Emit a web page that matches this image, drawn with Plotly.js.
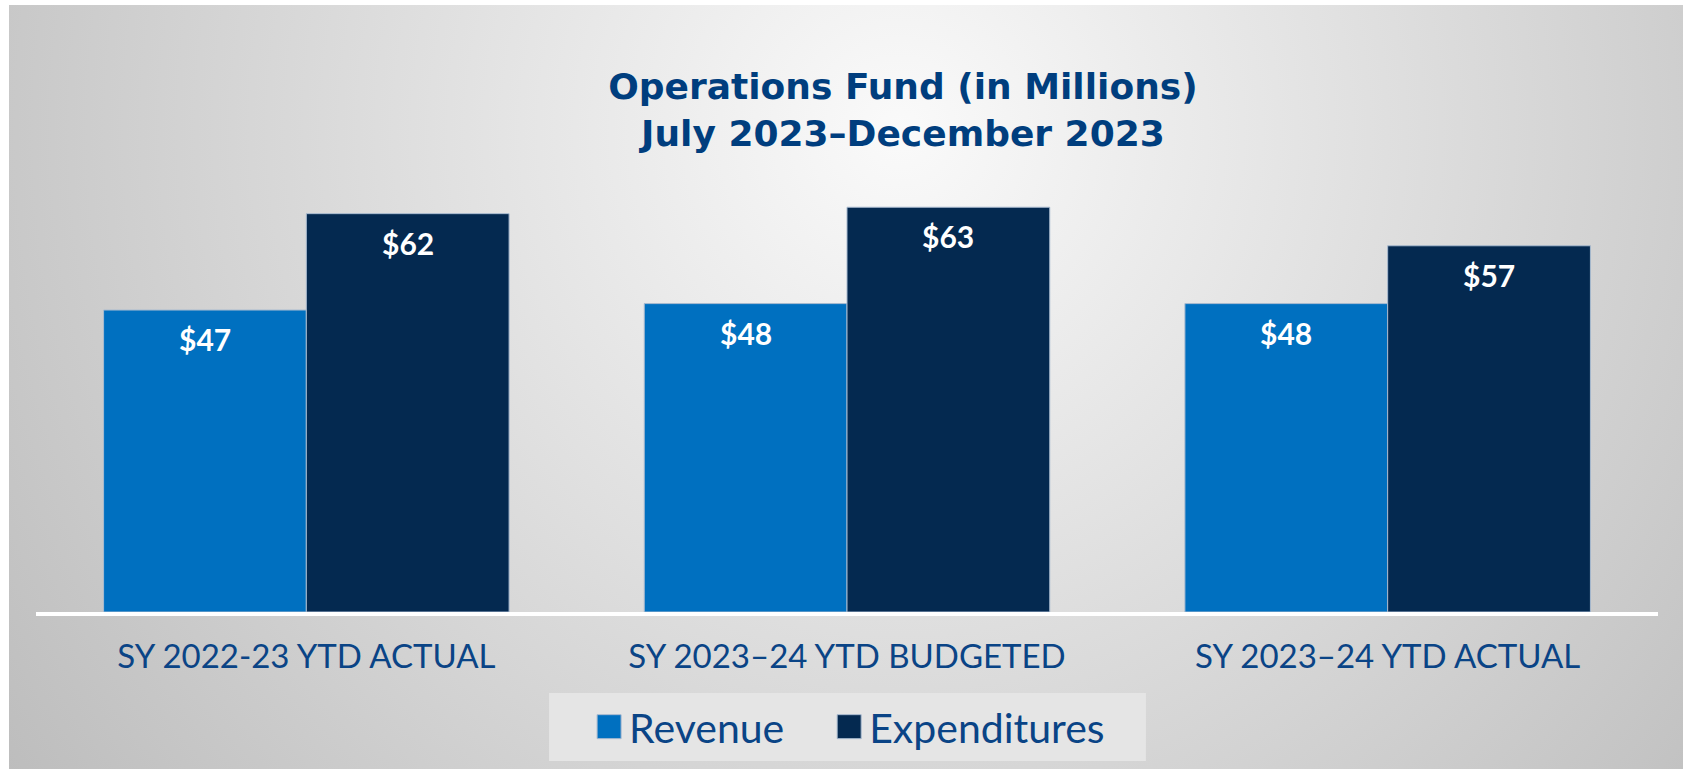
<!DOCTYPE html>
<html>
<head>
<meta charset="utf-8">
<script src="https://cdn.plot.ly/plotly-3.0.1.min.js"></script>
<style>
  html, body { margin: 0; padding: 0; background: #ffffff; overflow: hidden; }
  #bg {
    position: absolute; left: 9px; top: 5px; width: 1674px; height: 764px;
    background: radial-gradient(circle at 891px 125px, #fafafa 0px, #bdbdbd 1100px);
  }
  #chart { position: absolute; left: 0; top: 0; width: 1683px; height: 769px; }
</style>
</head>
<body>
<div id="bg"></div>
<div id="chart"></div>
<script>
// Operations fund, revenue vs expenditures (in millions)
var categories = ['SY 2022-23 YTD ACTUAL', 'SY 2023–24 YTD BUDGETED', 'SY 2023–24 YTD ACTUAL'];
var revenue = [47, 48, 48];
var expenditures = [62, 63, 57];

var navyText = '#0a4486';
var gap = 0.25;

var revTrace = {
    x: categories,
    y: revenue,
    name: 'Revenue',
    type: 'bar',
    legend: 'legend',
    marker: { color: '#0070c0', line: { color: '#a9bbd0', width: 1 } },
    textposition: 'none'
};

var expTrace = {
    x: categories,
    y: expenditures,
    name: 'Expenditures',
    type: 'bar',
    legend: 'legend2',
    marker: { color: '#042950', line: { color: '#a9bbd0', width: 1 } },
    textposition: 'none'
};

// value labels sit a bit under the top of each bar
var labels = [];
[revenue, expenditures].forEach(function (vals, s) {
    var off = (s === 0 ? -1 : 1) * (1 - gap) / 4;
    vals.forEach(function (v, i) {
        labels.push({
            x: i + off, y: v, xref: 'x', yref: 'y',
            text: '$' + v, showarrow: false,
            yanchor: 'middle', yshift: -29,
            font: { family: 'Lato', size: 30, color: '#ffffff', weight: 700 }
        });
    });
});

// two legends so the entries can be spaced like the original
function legendAt(x) {
    return {
        orientation: 'h',
        xref: 'paper', x: x, xanchor: 'left',
        yref: 'container', y: 0.0546, yanchor: 'middle',
        bgcolor: 'rgba(0,0,0,0)', borderwidth: 0,
        font: { family: 'Lato', size: 41, color: navyText }
    };
}

var layout = {
    width: 1683,
    height: 769,
    margin: { l: 36, r: 25, t: 98, b: 157 },
    paper_bgcolor: 'rgba(0,0,0,0)',
    plot_bgcolor: 'rgba(0,0,0,0)',
    barmode: 'group',
    bargap: gap,
    bargroupgap: 0,
    hovermode: false,
    showlegend: true,
    title: {
        text: 'Operations Fund (in Millions)<br>July 2023–December 2023',
        font: { family: 'DejaVu Sans', size: 36, color: '#003e7e', weight: 700 },
        xref: 'container', x: 0.5365, xanchor: 'center',
        yref: 'container', y: 0.871, yanchor: 'middle'
    },
    xaxis: {
        showline: true, linecolor: '#ffffff', linewidth: 4,
        showgrid: false, zeroline: false, ticks: '',
        ticklabelstandoff: 12,
        tickfont: { family: 'Lato', size: 33, color: navyText }
    },
    yaxis: { range: [0, 80], visible: false },
    legend: legendAt(0.341),
    legend2: legendAt(0.489),
    // lighter panel behind the legend
    shapes: [{
        type: 'rect', xref: 'paper', yref: 'paper', layer: 'below',
        x0: 0.3163, x1: 0.6843, y0: -0.2899, y1: -0.1576,
        fillcolor: '#e5e5e5', line: { width: 0 }
    }],
    annotations: labels
};

Plotly.newPlot('chart', [revTrace, expTrace], layout, { displayModeBar: false, staticPlot: true })
    .then(function () {
        // bigger legend swatches, like the original
        document.querySelectorAll('#chart .legendpoints path').forEach(function (p) {
            p.setAttribute('d', 'M12,12H-12V-12H12Z');
        });
    });
</script>
</body>
</html>
